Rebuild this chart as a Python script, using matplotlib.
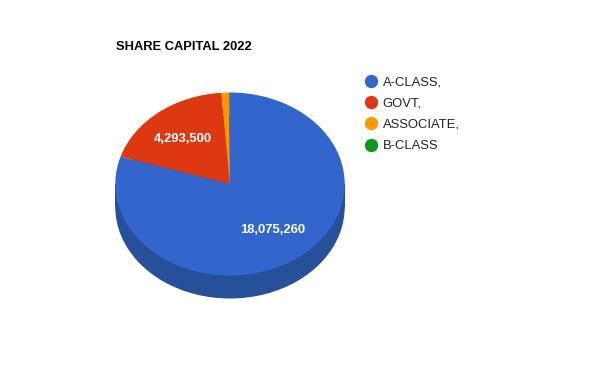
import matplotlib
matplotlib.use("Agg")
import matplotlib.pyplot as plt
from matplotlib.lines import Line2D
from matplotlib.patches import Rectangle

categories = ['A-CLASS,', 'GOVT,', 'ASSOCIATE,', 'B-CLASS']
shares = [18075260, 4293500, 240000, 30000]
shown_labels = ['18,075,260', '4,293,500', '', '']
colors = ['#3366cc', '#dc3912', '#ff9900', '#109618']
dark_colors = ['#26509a', '#a52b0e', '#bf7300', '#0c7012']

W, H = 600, 390
CX, CY = 230, 184       # pie centre, px from top left
RX, RY = 114.7, 91.5    # ellipse radii, px
DEPTH = 23 / RY         # thickness of the side, in y units

plt.rcParams['font.family'] = ['Liberation Sans', 'DejaVu Sans']

fig = plt.figure(figsize=(6, 3.9), dpi=100)
ax = fig.add_axes([0, 0, 1, 1])


def draw_pie(center_y, cols):
    wedges, _ = ax.pie(shares, colors=cols, startangle=90, counterclock=False,
                       radius=1, center=(0, center_y),
                       wedgeprops={'linewidth': 0})
    return wedges


# side of the pie first, then the top face over it
draw_pie(-DEPTH, dark_colors)
ax.add_patch(Rectangle((-1, -DEPTH), 2, DEPTH, color=dark_colors[0], lw=0))
draw_pie(0, colors)

# stretch the circle into an ellipse, one axes covering the whole figure
ax.set_aspect('auto')
ax.set_xlim(-CX / RX, (W - CX) / RX)
ax.set_ylim(-(H - CY) / RY, CY / RY)
ax.axis('off')


def px(x, y):
    return x / W, 1 - y / H


fig.text(*px(116, 47), 'SHARE CAPITAL 2022', fontsize=9.3, fontweight='bold',
         color='#000000', va='center', ha='left')

fig.text(*px(273, 230), shown_labels[0], fontsize=9.36, fontweight='bold',
         color='white', va='center', ha='center')
fig.text(*px(183, 139), shown_labels[1], fontsize=9.36, fontweight='bold',
         color='white', va='center', ha='center')

handles = [Line2D([], [], linestyle='none', marker='o', markersize=9.6,
                  markerfacecolor=c, markeredgewidth=0) for c in colors]
ax.legend(handles, categories, loc='upper left', bbox_to_anchor=px(365, 76),
          bbox_transform=fig.transFigure, frameon=False, fontsize=9.36,
          labelcolor='#222222', labelspacing=0.71, handlelength=1.0,
          handletextpad=0.37, borderpad=0, borderaxespad=0)

fig.savefig('out.png', dpi=100)
